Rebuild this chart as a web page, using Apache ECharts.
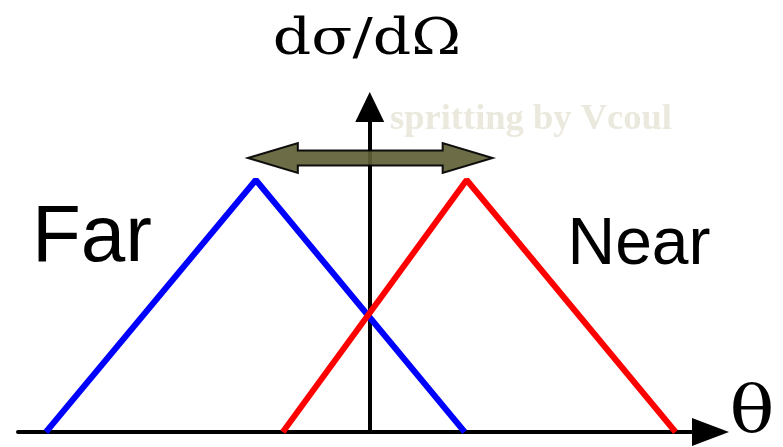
<!DOCTYPE html>
<html>
<head>
<meta charset="utf-8">
<style>
  html, body { margin: 0; padding: 0; background: #fff; }
  #chart { width: 783px; height: 447px; }
</style>
<script src="https://cdn.jsdelivr.net/npm/echarts@6/dist/echarts.min.js"></script>
</head>
<body>
<div id="chart"></div>
<script>
// Angle axis in arbitrary units, 0 at the vertical dσ/dΩ axis.
const farTheta = [-32.4, -11.4, 9.5];
const farSigma = [0, 25.2, 0];
const nearTheta = [-8.7, 9.7, 30.6];
const nearSigma = [0, 25.2, 0];
// The double-headed arrow: from one end to the other, at a fixed height.
const shiftFrom = [-12.2, 27.4];
const shiftTo = [12.3, 27.4];

const THETA_RANGE = [-35.2, 34.1];
const SIGMA_RANGE = [0, 32.5];

const pairs = (xs, ys) => xs.map((x, i) => [x, ys[i]]);

// Fat two-way arrow, built from the two end points the scale gives back.
// Sizes here are pixels: head length, head half-height, shaft half-height.
function doubleArrow(params, api) {
  const a = api.coord([api.value(0), api.value(1)]);
  const b = api.coord([api.value(2), api.value(3)]);
  const head = 50, hh = 15, sh = 7.5;
  const y = (a[1] + b[1]) / 2;
  const points = [
    [a[0], y],
    [a[0] + head, y - hh],
    [a[0] + head, y - sh],
    [b[0] - head, y - sh],
    [b[0] - head, y - hh],
    [b[0], y],
    [b[0] - head, y + hh],
    [b[0] - head, y + sh],
    [a[0] + head, y + sh],
    [a[0] + head, y + hh],
  ];
  return {
    type: "polygon",
    shape: { points },
    style: { fill: "#5f5f37", stroke: "#000", lineWidth: 2, opacity: 0.92 },
  };
}

const chart = echarts.init(document.getElementById("chart"));
chart.setOption({
  animation: false,
  backgroundColor: "#fff",
  grid: { left: 18, right: 72.5, top: 107, bottom: 15 },
  xAxis: {
    type: "value",
    min: THETA_RANGE[0],
    max: THETA_RANGE[1],
    axisLine: {
      show: true,
      lineStyle: { color: "#000", width: 4 },
      symbol: ["none", "triangle"],
      symbolSize: [28, 37],
    },
    axisTick: { show: false },
    axisLabel: { show: false },
    splitLine: { show: false },
  },
  yAxis: {
    type: "value",
    min: SIGMA_RANGE[0],
    max: SIGMA_RANGE[1],
    axisLine: {
      show: true,
      onZero: true,
      lineStyle: { color: "#000", width: 4 },
      symbol: ["none", "triangle"],
      symbolSize: [29, 30],
    },
    axisTick: { show: false },
    axisLabel: { show: false },
    splitLine: { show: false },
  },
  series: [
    {
      name: "Far",
      type: "line",
      data: pairs(farTheta, farSigma),
      showSymbol: false,
      symbol: "none",
      lineStyle: { color: "#0000ff", width: 6 },
      z: 3,
    },
    {
      name: "Near",
      type: "line",
      data: pairs(nearTheta, nearSigma),
      showSymbol: false,
      symbol: "none",
      lineStyle: { color: "#ff0000", width: 6 },
      z: 4,
    },
    {
      type: "custom",
      renderItem: doubleArrow,
      encode: { x: [0, 2], y: [1, 3] },
      data: [[shiftFrom[0], shiftFrom[1], shiftTo[0], shiftTo[1]]],
      z: 5,
    },
  ],
  graphic: [
    {
      type: "text",
      x: 367, y: 41,
      scaleX: 1.18,
      style: {
        text: "dσ/dΩ",
        font: "51px 'DejaVu Serif'",
        fill: "#000",
        align: "center",
        verticalAlign: "middle",
      },
    },
    {
      type: "text",
      x: 390, y: 120,
      style: {
        text: "spritting by Vcoul",
        font: "bold 36.5px 'Liberation Serif'",
        fill: "#ebe8dd",
        align: "left",
        verticalAlign: "middle",
      },
    },
    {
      type: "text",
      x: 92, y: 239,
      style: {
        text: "Far",
        font: "80px 'Liberation Sans'",
        fill: "#000",
        align: "center",
        verticalAlign: "middle",
      },
    },
    {
      type: "text",
      x: 639, y: 246,
      style: {
        text: "Near",
        font: "66px 'Liberation Sans'",
        fill: "#000",
        align: "center",
        verticalAlign: "middle",
      },
    },
    {
      type: "text",
      x: 752, y: 415,
      scaleX: 1.15,
      style: {
        text: "θ",
        font: "65px 'DejaVu Serif'",
        fill: "#000",
        align: "center",
        verticalAlign: "middle",
      },
    },
  ],
});
</script>
</body>
</html>
